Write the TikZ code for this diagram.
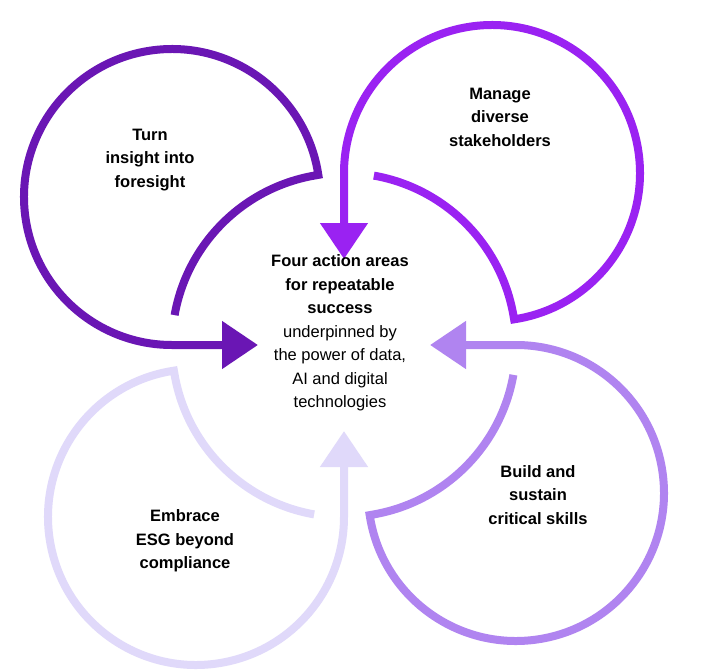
\documentclass[tikz,border=0pt]{standalone}
\usepackage{fontspec}
\setmainfont{Liberation Sans}
\usetikzlibrary{arrows.meta}
\definecolor{cA}{HTML}{6A16B4}
\definecolor{cB}{HTML}{9A22F2}
\definecolor{cC}{HTML}{B084F0}
\definecolor{cD}{HTML}{E0D9FA}
\begin{document}
\begin{tikzpicture}[x=1pt,y=1pt,
  loop/.style={line width=8pt,-{Triangle[length=36pt,width=46pt]}},
  lbl/.style={align=center,font=\bfseries\fontsize{16.5}{23.5}\selectfont,text=black}]
\useasboundingbox (0,0) rectangle (702,-672);
\fill[white] (0,0) rectangle (702,-672);
\draw[pink!35,line width=1pt] (628,0) -- (690,330);
\draw[pink!20,line width=1pt] (650,0) -- (700,250);
\draw[pink!25,line width=0.8pt] (615,0) -- (640,90);
\newcommand{\myloop}[2]{%
  \begin{scope}[shift={(344,-345)},rotate=#2]
  \draw[loop,draw=#1,fill=none] (170:172) arc[start angle=170,end angle=100,radius=172]
     -- ([shift={(-172,148)}]8.6:148) arc[start angle=8.6,end angle=270,radius=148] -- (-86,0);
  \end{scope}}
\myloop{cD}{-270}
\myloop{cC}{-180}
\myloop{cB}{-90}
\myloop{cA}{0}
\node[lbl] (t1) at (150,-160) {Turn\\insight into\\foresight};
\node[lbl] (t2) at (500,-117) {Manage\\diverse\\stakeholders};
\node[lbl] (t3) at (538,-495) {Build and\\sustain\\critical skills};
\node[lbl] (t4) at (185,-541) {Embrace\\ESG beyond\\compliance};
\node[align=center,font=\fontsize{16.5}{23.5}\selectfont] (c) at (340,-333)
  {\textbf{Four action areas}\\\textbf{for repeatable}\\\textbf{success}\\underpinned by\\the power of data,\\AI and digital\\technologies};
\end{tikzpicture}
\end{document}
